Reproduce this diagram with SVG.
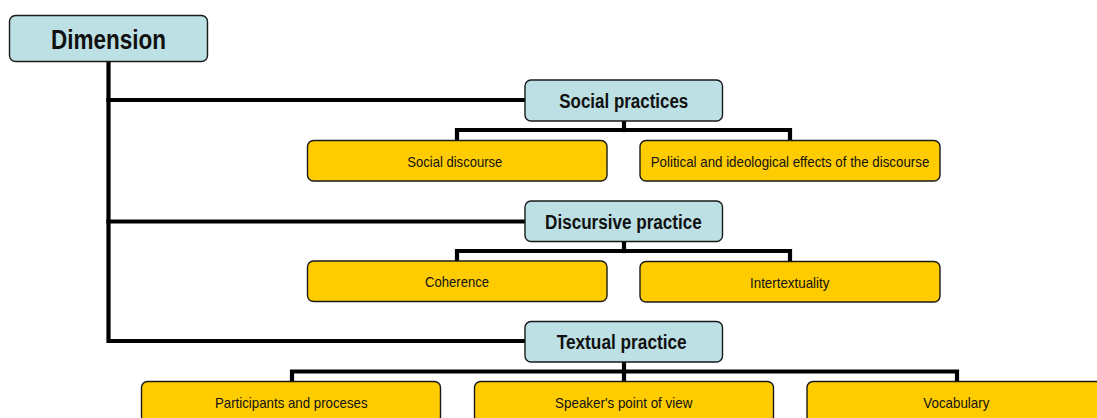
<svg xmlns="http://www.w3.org/2000/svg" width="1097" height="418" viewBox="0 0 1097 418">
  <style>
    .head rect { fill: #bce0e3; stroke: #1a1a1a; stroke-width: 1.4; }
    .leaf rect { fill: #ffcc00; stroke: #1a1a1a; stroke-width: 1.4; }
    .head text { font-family: "Liberation Sans", Arial, sans-serif; font-weight: bold; font-size: 20px; fill: #111; text-anchor: middle; }
    .leaf text { font-family: "Liberation Sans", Arial, sans-serif; font-size: 15px; fill: #111; text-anchor: middle; }
    #connectors path { fill: none; stroke: #000; stroke-width: 4.2; stroke-linejoin: miter; stroke-linecap: square; }
  </style>
  <rect width="1097" height="418" fill="#ffffff"/>

  <!-- tree connectors -->
  <g id="connectors">
    <path d="M108.5 61 V341 H525"/>
    <path d="M108.5 100 H525"/>
    <path d="M108.5 221.5 H525"/>
    <path d="M624 121 V130"/>
    <path d="M457 140 V130 H790 V140"/>
    <path d="M624 241.5 V251"/>
    <path d="M457 261 V251 H790 V261"/>
    <path d="M624 362 V371.5"/>
    <path d="M292 381.5 V371.5 H957 V381.5"/>
    <path d="M624 371.5 V381.5"/>
  </g>

  <!-- root -->
  <g id="dimension" class="head">
    <rect x="9.5" y="15.5" width="198" height="46" rx="6"/>
    <text x="108.5" y="49" style="font-size:27px" textLength="115" lengthAdjust="spacingAndGlyphs">Dimension</text>
  </g>

  <!-- level 1 -->
  <g id="social-practices" class="head">
    <rect x="525" y="80" width="197.5" height="41" rx="6"/>
    <text x="623.8" y="108" textLength="129" lengthAdjust="spacingAndGlyphs">Social practices</text>
  </g>
  <g id="discursive-practice" class="head">
    <rect x="525" y="201" width="197.5" height="40.5" rx="6"/>
    <text x="623.4" y="229" textLength="156.7" lengthAdjust="spacingAndGlyphs">Discursive practice</text>
  </g>
  <g id="textual-practice" class="head">
    <rect x="525" y="321.5" width="197.5" height="40.5" rx="6"/>
    <text x="621.7" y="349.3" textLength="130" lengthAdjust="spacingAndGlyphs">Textual practice</text>
  </g>

  <!-- level 2 -->
  <g id="social-discourse" class="leaf">
    <rect x="307.5" y="140.5" width="299.5" height="40.5" rx="6"/>
    <text x="454.8" y="166.5" textLength="95" lengthAdjust="spacingAndGlyphs">Social discourse</text>
  </g>
  <g id="political-effects" class="leaf">
    <rect x="640" y="140.5" width="300" height="40.5" rx="6"/>
    <text x="790" y="166.5" textLength="278.6" lengthAdjust="spacingAndGlyphs">Political and ideological effects of the discourse</text>
  </g>
  <g id="coherence" class="leaf">
    <rect x="307.5" y="261" width="299.5" height="40.5" rx="6"/>
    <text x="457" y="287" textLength="64" lengthAdjust="spacingAndGlyphs">Coherence</text>
  </g>
  <g id="intertextuality" class="leaf">
    <rect x="640" y="261.5" width="300" height="40.5" rx="6"/>
    <text x="789.7" y="287.5" textLength="79.3" lengthAdjust="spacingAndGlyphs">Intertextuality</text>
  </g>
  <g id="participants" class="leaf">
    <rect x="141.5" y="381.5" width="299" height="41" rx="6"/>
    <text x="291.3" y="408" textLength="152.7" lengthAdjust="spacingAndGlyphs">Participants and proceses</text>
  </g>
  <g id="point-of-view" class="leaf">
    <rect x="474.5" y="381.5" width="299" height="41" rx="6"/>
    <text x="623.7" y="408" textLength="137.3" lengthAdjust="spacingAndGlyphs">Speaker's point of view</text>
  </g>
  <g id="vocabulary" class="leaf">
    <rect x="807" y="381.5" width="299" height="41" rx="6"/>
    <text x="956.3" y="408" textLength="66" lengthAdjust="spacingAndGlyphs">Vocabulary</text>
  </g>
</svg>
